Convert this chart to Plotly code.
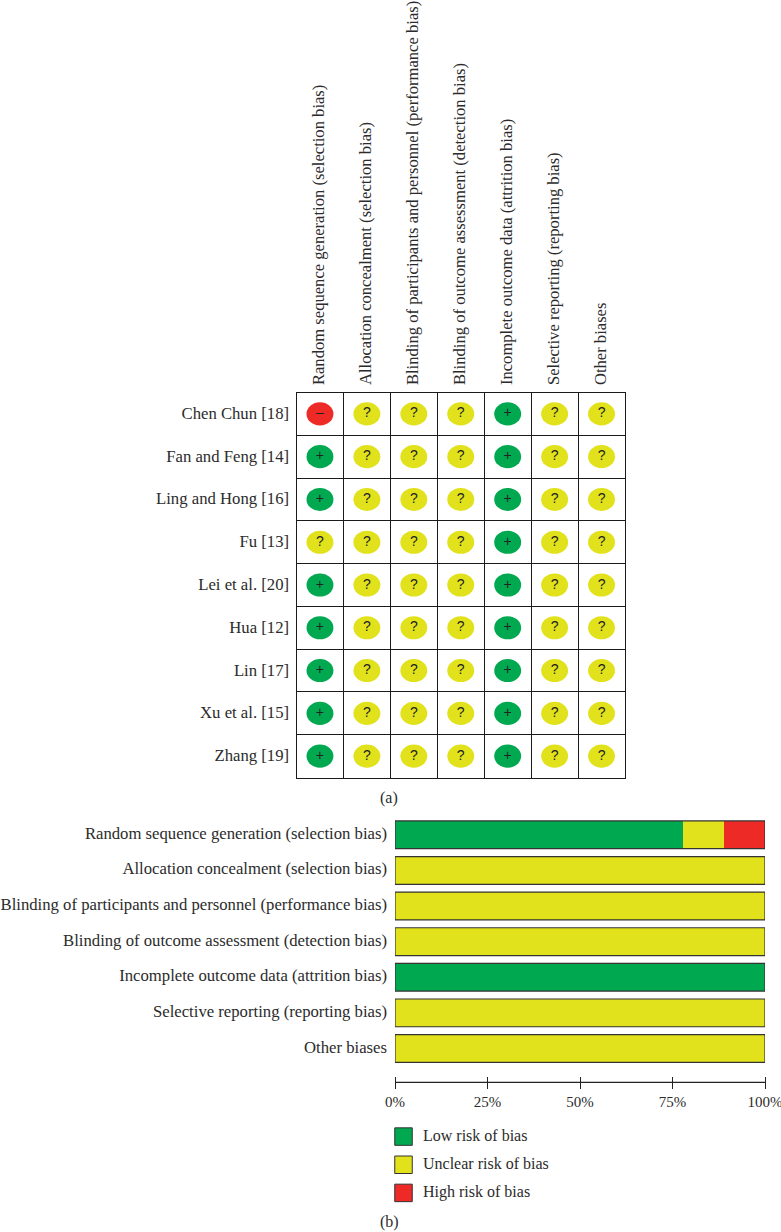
import plotly.graph_objects as go

W, H = 781, 1232

STUDIES = ["Chen Chun [18]", "Fan and Feng [14]", "Ling and Hong [16]", "Fu [13]", "Lei et al. [20]",
           "Hua [12]", "Lin [17]", "Xu et al. [15]", "Zhang [19]"]
DOMAINS = ["Random sequence generation (selection bias)", "Allocation concealment (selection bias)",
           "Blinding of participants and personnel (performance bias)",
           "Blinding of outcome assessment (detection bias)", "Incomplete outcome data (attrition bias)",
           "Selective reporting (reporting bias)", "Other biases"]
RANDOM_SEQ = ["-", "+", "+", "?", "+", "+", "+", "+", "+"]
ALLOCATION = ["?"] * 9
BLINDING_PP = ["?"] * 9
BLINDING_OA = ["?"] * 9
INCOMPLETE = ["+"] * 9
SELECTIVE = ["?"] * 9
OTHER = ["?"] * 9
COLUMNS = [RANDOM_SEQ, ALLOCATION, BLINDING_PP, BLINDING_OA, INCOMPLETE, SELECTIVE, OTHER]

LOW_PCT = [77.8, 0, 0, 0, 100, 0, 0]
UNCLEAR_PCT = [11.1, 100, 100, 100, 0, 100, 100]
HIGH_PCT = [11.1, 0, 0, 0, 0, 0, 0]
X_TICKS = [0, 25, 50, 75, 100]
X_TICK_LABELS = ["0%", "25%", "50%", "75%", "100%"]
LEGEND_LABELS = ["Low risk of bias", "Unclear risk of bias", "High risk of bias"]

GREEN, YELLOW, RED = "#00A950", "#E1E21B", "#EE2A27"
COLORS = {"+": GREEN, "?": YELLOW, "-": RED}
GLYPHS = {"+": "+", "?": "?", "-": "–"}
INK = "#2b2b2b"
SERIF = "Liberation Serif"
FS = 16.7
FS_TOP = 16.6
FS_SMALL = 16
FS_TICK = 15


def px_x(a, b):
    return [a / W, b / W]


def px_y(top, bottom):
    return [1 - bottom / H, 1 - top / H]


fig = go.Figure()
shapes = []

# ---- (a) risk-of-bias grid
pts = {k: ([], []) for k in COLORS}
for c, col in enumerate(COLUMNS):
    for r, v in enumerate(col):
        pts[v][0].append(c)
        pts[v][1].append(r)
        shapes.append(dict(type="circle", xref="x", yref="y", layer="below",
                           x0=c - 0.287, x1=c + 0.287, y0=r - 0.27, y1=r + 0.27,
                           fillcolor=COLORS[v], line=dict(width=0)))
for k, (xs, ys) in pts.items():
    fig.add_trace(go.Scatter(x=xs, y=ys, mode="text", text=[GLYPHS[k]] * len(xs),
                             textfont=dict(family="Liberation Sans", size=14, color="#222"),
                             textposition="middle center", showlegend=False, hoverinfo="skip",
                             xaxis="x", yaxis="y"))

grid = dict(showgrid=True, gridcolor="#1a1a1a", gridwidth=1.2)
fig.update_layout(
    xaxis=dict(domain=px_x(296.5, 625), range=[-0.5, 6.5], side="top", anchor="y", automargin=False,
               tickmode="array", tickvals=[i - 0.02 for i in range(7)], ticktext=DOMAINS, tickangle=-90,
               ticks="", ticklabelstandoff=3, showgrid=False, zeroline=False, ticklabeloverflow="allow",
               showline=True, linecolor="#1a1a1a", linewidth=1.2, mirror=True,
               tickfont=dict(family=SERIF, size=FS_TOP, color=INK),
               minor=dict(tickmode="array", tickvals=[i + 0.5 for i in range(6)], **grid)),
    yaxis=dict(domain=px_y(392.5, 777.5), range=[8.5, -0.5], anchor="x", automargin=False,
               tickmode="array", tickvals=[i - 0.02 for i in range(9)], ticktext=STUDIES,
               ticks="", ticklabelstandoff=3, showgrid=False, zeroline=False, ticklabeloverflow="allow",
               showline=True, linecolor="#1a1a1a", linewidth=1.2, mirror=True,
               tickfont=dict(family=SERIF, size=FS, color=INK),
               minor=dict(tickmode="array", tickvals=[i + 0.5 for i in range(8)], **grid)),
)

# ---- (b) stacked percentage bars
for vals, color, name in zip([LOW_PCT, UNCLEAR_PCT, HIGH_PCT], [GREEN, YELLOW, RED], LEGEND_LABELS):
    fig.add_trace(go.Bar(y=list(range(7)), x=vals, orientation="h", marker=dict(color=color, line=dict(width=0)),
                         name=name, showlegend=False, xaxis="x2", yaxis="y2", hoverinfo="x+y"))
for r in range(7):
    shapes.append(dict(type="rect", xref="x2", yref="y2", x0=0, x1=100, y0=r - 0.39, y1=r + 0.39,
                       line=dict(color="#333", width=1.2), fillcolor="rgba(0,0,0,0)"))
shapes.append(dict(type="line", xref="x2", yref="paper", x0=0, x1=100,
                   y0=1 - 1082.3 / H, y1=1 - 1082.3 / H, line=dict(color="#222", width=1.2)))

fig.update_layout(
    barmode="stack",
    bargap=0.22,
    xaxis2=dict(domain=px_x(395, 765), range=[0, 100], anchor="free", position=1 - 1076 / H, automargin=False,
                tickmode="array", tickvals=X_TICKS, ticktext=X_TICK_LABELS, ticks="outside", ticklen=12,
                tickwidth=1.2, tickcolor="#222", showgrid=False, zeroline=False, showline=False,
                ticklabeloverflow="allow",
                tickfont=dict(family=SERIF, size=FS_TICK, color=INK)),
    yaxis2=dict(domain=px_y(817, 1066.3), range=[6.5, -0.5], anchor="x2", automargin=False,
                tickmode="array", tickvals=[i - 0.05 for i in range(7)], ticktext=DOMAINS, ticks="",
                ticklabelstandoff=7, showgrid=False, zeroline=False, showline=False, ticklabeloverflow="allow",
                tickfont=dict(family=SERIF, size=FS, color=INK)),
)

# ---- legend, drawn as large square swatches
fig.add_trace(go.Scatter(x=[0, 0, 0], y=[0, 1, 2], mode="markers", showlegend=False, hoverinfo="skip",
                         marker=dict(symbol="square", size=17.5, color=[GREEN, YELLOW, RED],
                                     line=dict(color="#333", width=1)),
                         xaxis="x3", yaxis="y3"))
fig.update_layout(
    xaxis3=dict(domain=px_x(379.5, 427.5), range=[-1, 1], visible=False, anchor="y3", automargin=False),
    yaxis3=dict(domain=px_y(1122.5, 1207), range=[2.5, -0.5], visible=False, anchor="x3", automargin=False),
)

annotations = [dict(x=421 / W, y=i - 0.03, xref="paper", yref="y3", text=t, showarrow=False, xanchor="left",
                    font=dict(family=SERIF, size=FS_SMALL, color=INK)) for i, t in enumerate(LEGEND_LABELS)]
for txt, ypx in [("(a)", 798), ("(b)", 1222)]:
    annotations.append(dict(x=389 / W, y=1 - ypx / H, xref="paper", yref="paper", text=txt, showarrow=False,
                            yanchor="middle", font=dict(family=SERIF, size=FS_SMALL, color=INK)))

fig.update_layout(width=W, height=H, margin=dict(l=0, r=0, t=0, b=0), autosize=False,
                  paper_bgcolor="white", plot_bgcolor="white", showlegend=False,
                  shapes=shapes, annotations=annotations)
fig.write_html("out.html", config=dict(displayModeBar=False), post_script="document.body.style.margin='0';")
